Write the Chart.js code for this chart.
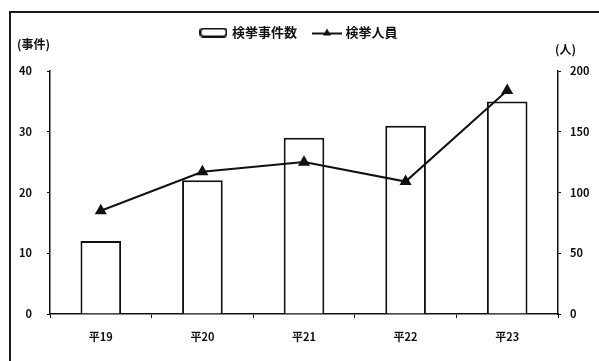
<!DOCTYPE html>
<html lang="ja">
<head>
  <meta charset="UTF-8">
  <title>検挙事件数・検挙人員</title>
  <script src="https://cdn.jsdelivr.net/npm/chart.js"></script>
  <style>
    html, body { margin: 0; padding: 0; background: #fff; }
    #wrap { position: relative; width: 599px; height: 361px; }
    #frame {
      position: absolute; left: 9px; top: 11px; right: 0; bottom: 0;
      border-top: 2px solid #1a1a1a; border-left: 2px solid #1a1a1a;
    }
    .unit {
      position: absolute; font: bold 12px "Noto Sans CJK JP", sans-serif; color: #111;
    }
  </style>
</head>
<body>
<div id="wrap">
  <div id="frame"></div>
  <canvas id="chart" width="599" height="361"></canvas>
  <span class="unit" style="left:17px; top:35px;">(事件)</span>
  <span class="unit" style="left:555px; top:40px;">(人)</span>
</div>

<script>
  // データ
  const years = ['平19', '平20', '平21', '平22', '平23'];
  const caseCounts = [12, 22, 29, 31, 35];      // 検挙事件数（左軸）
  const arrestees = [85, 117, 125, 109, 184];   // 検挙人員（右軸）
  const caseAxisMax = 40, caseAxisStep = 10;
  const personAxisMax = 200, personAxisStep = 50;

  const ink = '#111';
  const font = { family: '"Noto Sans CJK JP", sans-serif', weight: 'bold', size: 11 };

  // 凡例アイコン
  function makeIcon(w, h, draw) {
    const c = document.createElement('canvas');
    c.width = w; c.height = h;
    draw(c.getContext('2d'));
    return c;
  }
  const barIcon = makeIcon(28, 10, (g) => {
    g.fillStyle = '#fff'; g.strokeStyle = ink; g.lineWidth = 2;
    g.beginPath(); g.roundRect(1, 1, 26, 8, 3); g.fill(); g.stroke();
  });
  const lineIcon = makeIcon(30, 10, (g) => {
    g.strokeStyle = ink; g.lineWidth = 2;
    g.beginPath(); g.moveTo(0, 6); g.lineTo(30, 6); g.stroke();
    g.fillStyle = ink;
    g.beginPath(); g.moveTo(15, 1); g.lineTo(19, 8); g.lineTo(11, 8); g.closePath(); g.fill();
  });
  const icons = [barIcon, lineIcon];

  // 凡例の下に余白を足す
  const legendGap = {
    id: 'legendGap',
    beforeInit(chart) {
      const fit = chart.legend.fit;
      chart.legend.fit = function () {
        fit.bind(chart.legend)();
        this.height += 22;
      };
    }
  };

  const ctx = document.getElementById('chart').getContext('2d');
  new Chart(ctx, {
    type: 'bar',
    data: {
      labels: years,
      datasets: [
        {
          label: '検挙事件数',
          data: caseCounts,
          yAxisID: 'y',
          backgroundColor: '#fff',
          borderColor: ink,
          borderWidth: 2,
          barPercentage: 0.4,
          categoryPercentage: 1,
          order: 1
        },
        {
          type: 'line',
          label: '検挙人員',
          data: arrestees,
          yAxisID: 'y1',
          borderColor: ink,
          backgroundColor: ink,
          borderWidth: 2,
          pointStyle: 'triangle',
          pointRadius: 5,
          pointBackgroundColor: ink,
          tension: 0,
          order: 0
        }
      ]
    },
    options: {
      responsive: false,
      animation: false,
      layout: { padding: { top: 8, left: 0, right: 0, bottom: 0 } },
      plugins: {
        tooltip: { enabled: false },
        legend: {
          position: 'top',
          labels: {
            color: ink,
            font: { family: font.family, weight: 'bold', size: 13 },
            usePointStyle: true,
            pointStyleWidth: 24,
            padding: 18,
            generateLabels(chart) {
              const items = Chart.defaults.plugins.legend.labels.generateLabels(chart);
              items.sort((a, b) => a.datasetIndex - b.datasetIndex);
              items.forEach((it) => { it.pointStyle = icons[it.datasetIndex]; });
              return items;
            }
          }
        }
      },
      scales: {
        x: {
          grid: { display: true, drawOnChartArea: false, drawTicks: true, tickLength: 4, color: ink },
          border: { color: ink, width: 1.5 },
          ticks: { color: ink, font: font, padding: 12 },
          afterFit(scale) { scale.height = 47; }
        },
        y: {
          position: 'left',
          min: 0, max: caseAxisMax,
          grid: { drawOnChartArea: false, drawTicks: true, tickLength: 3, color: ink },
          border: { color: ink, width: 1.5 },
          ticks: { stepSize: caseAxisStep, color: ink, font: font, padding: 15 },
          afterFit(scale) { scale.width = 50; }
        },
        y1: {
          position: 'right',
          min: 0, max: personAxisMax,
          grid: { drawOnChartArea: false, drawTicks: true, tickLength: 3, color: ink },
          border: { color: ink, width: 1.5 },
          ticks: { stepSize: personAxisStep, color: ink, font: font, padding: 9 },
          afterFit(scale) { scale.width = 41; }
        }
      }
    },
    plugins: [legendGap]
  });
</script>
</body>
</html>
